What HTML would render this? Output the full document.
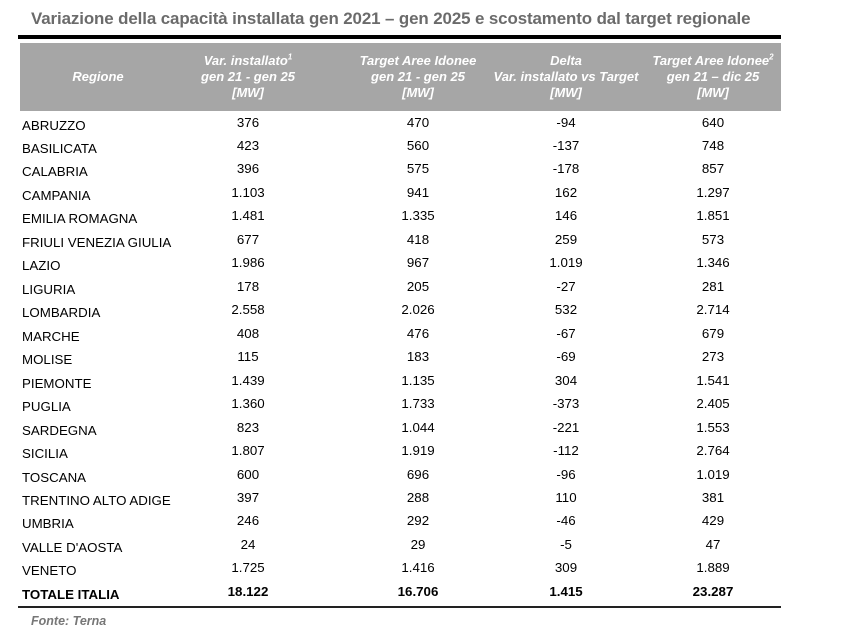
<!DOCTYPE html>
<html><head><meta charset="utf-8"><style>
body{margin:0;width:842px;height:632px;background:#fff;font-family:"Liberation Sans",Arial,sans-serif;position:relative;overflow:hidden}
.t{position:absolute;left:31px;top:9px;font-size:16.9px;font-weight:bold;color:#6b6b6b;white-space:nowrap;letter-spacing:-0.1px}
.bar{position:absolute;left:18px;top:35px;width:763px;height:4px;background:#000}
.hd{position:absolute;left:20px;top:43px;width:761px;height:68px;background:#a6a6a6}
.h{position:absolute;color:#fff;font-weight:bold;font-style:italic;font-size:13px;line-height:16px;text-align:center;white-space:nowrap;transform:translateX(-50%)}
.r{position:absolute;left:22px;font-size:13.3px;color:#000;white-space:nowrap}
.n{position:absolute;font-size:13.3px;color:#000;transform:translateX(-50%);white-space:nowrap}
.b{font-weight:bold}
.bl{position:absolute;left:18px;top:606px;width:763px;height:2px;background:#222}
.f{position:absolute;left:31px;top:614px;font-size:12.5px;font-weight:bold;font-style:italic;color:#777}
sup{font-size:8px;line-height:0}
</style></head><body>
<div class="t">Variazione della capacità installata gen 2021 – gen 2025 e scostamento dal target regionale</div>
<div class="bar"></div>
<div class="hd"></div>
<div class="h" style="left:98px;top:69px">Regione</div>
<div class="h" style="left:248px;top:53px">Var. installato<sup>1</sup><br>gen 21 - gen 25<br>[MW]</div>
<div class="h" style="left:418px;top:53px">Target Aree Idonee<br>gen 21 - gen 25<br>[MW]</div>
<div class="h" style="left:566px;top:53px">Delta<br>Var. installato vs Target<br>[MW]</div>
<div class="h" style="left:713px;top:53px">Target Aree Idonee<sup>2</sup><br>gen 21 – dic 25<br>[MW]</div>
<div id="rows"></div>
<div class="bl"></div>
<div class="f">Fonte: Terna</div>
<script>
var d=[["ABRUZZO","376","470","-94","640"],["BASILICATA","423","560","-137","748"],["CALABRIA","396","575","-178","857"],["CAMPANIA","1.103","941","162","1.297"],["EMILIA ROMAGNA","1.481","1.335","146","1.851"],["FRIULI VENEZIA GIULIA","677","418","259","573"],["LAZIO","1.986","967","1.019","1.346"],["LIGURIA","178","205","-27","281"],["LOMBARDIA","2.558","2.026","532","2.714"],["MARCHE","408","476","-67","679"],["MOLISE","115","183","-69","273"],["PIEMONTE","1.439","1.135","304","1.541"],["PUGLIA","1.360","1.733","-373","2.405"],["SARDEGNA","823","1.044","-221","1.553"],["SICILIA","1.807","1.919","-112","2.764"],["TOSCANA","600","696","-96","1.019"],["TRENTINO ALTO ADIGE","397","288","110","381"],["UMBRIA","246","292","-46","429"],["VALLE D'AOSTA","24","29","-5","47"],["VENETO","1.725","1.416","309","1.889"],["TOTALE ITALIA","18.122","16.706","1.415","23.287"]];
var xs=[248,418,566,713],h="";
d.forEach(function(r,i){var y=117.5+i*23.47,b=i==20?" b":"";
h+='<div class="r'+b+'" style="top:'+y+'px">'+r[0]+'</div>';
for(var j=0;j<4;j++)h+='<div class="n'+b+'" style="left:'+xs[j]+'px;top:'+(y-3)+'px">'+r[j+1]+'</div>';});
document.getElementById("rows").innerHTML=h;
</script>
</body></html>
